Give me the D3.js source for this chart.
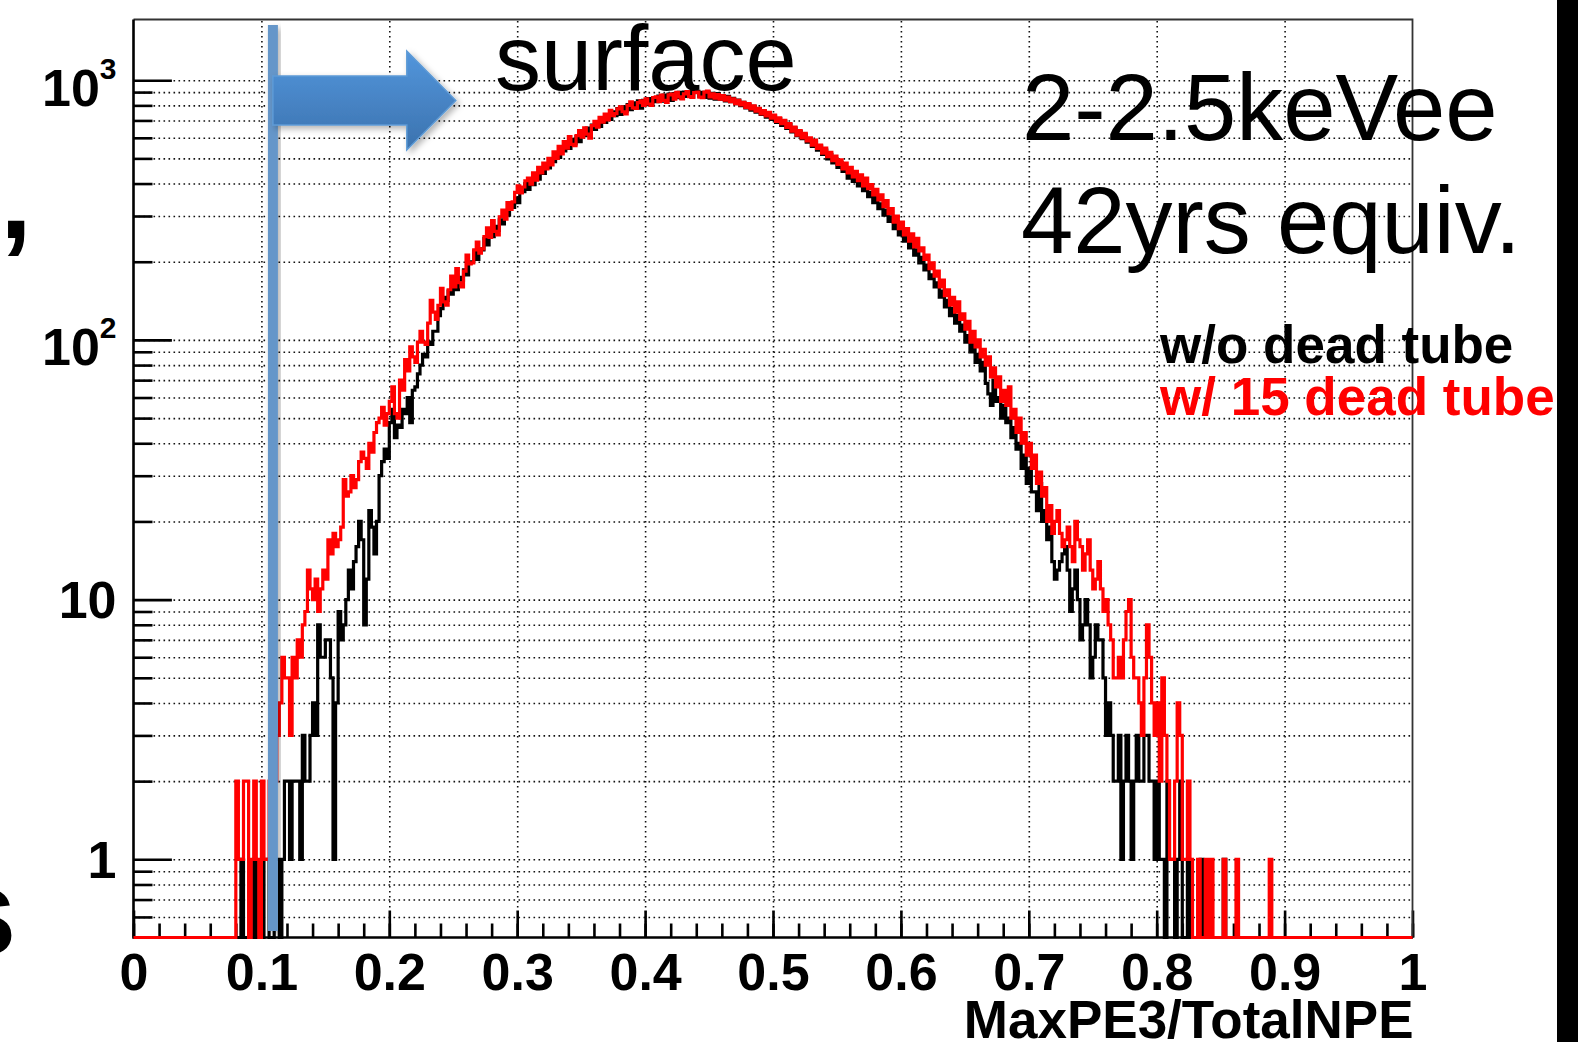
<!DOCTYPE html>
<html>
<head>
<meta charset="utf-8">
<script src="https://cdn.jsdelivr.net/npm/d3@7"></script>
<style>
  html, body { margin: 0; padding: 0; background: #fff; }
  svg { display: block; }
  text { font-family: "Liberation Sans", Arial, Helvetica, sans-serif; }
</style>
</head>
<body>
<svg id="plot"></svg>
<script>
// histogram bins: 0.002 wide, starting at 0.08 (everything outside is empty)
const binStart = 0.08;
const binWidth = 0.002;

// one row = 0.04 in MaxPE3/TotalNPE
const blackCounts = [
  0, 0, 1, 0, 0, 0, 0, 1, 0, 0, 0, 1, 1, 0, 0, 1, 1, 0, 1, 2,
  2, 1, 2, 2, 2, 1, 3, 2, 2, 3, 4, 3, 8, 6, 6, 7, 7, 5, 1, 4,
  9, 7, 8, 10, 13, 11, 14, 16, 20, 17, 8, 12, 22, 19, 15, 20, 30, 34, 38, 35,
  48, 54, 42, 47, 46, 54, 52, 60, 48, 64, 66, 74, 80, 88, 86, 98, 96, 108, 108, 124,
  132, 146, 142, 154, 150, 168, 156, 174, 170, 186, 178, 198, 200, 220, 204, 224, 222, 246, 232, 256,
  250, 274, 264, 290, 280, 308, 302, 330, 324, 352, 338, 370, 372, 400, 380, 412, 396, 430, 416, 452,
  438, 474, 460, 496, 486, 522, 504, 544, 534, 572, 546, 592, 568, 606, 580, 628, 612, 654, 624, 672,
  646, 690, 664, 714, 688, 736, 706, 756, 730, 778, 738, 790, 760, 806, 770, 818, 786, 832, 780, 836,
  806, 850, 810, 858, 826, 868, 830, 876, 842, 884, 836, 888, 856, 898, 852, 900, 866, 904, 860, 906,
  906, 868, 898, 858, 900, 852, 890, 846, 888, 846, 872, 832, 866, 826, 852, 812, 838, 798, 822, 782,
  808, 766, 794, 754, 778, 738, 760, 720, 748, 706, 728, 688, 712, 670, 694, 652, 676, 632, 656, 612,
  636, 596, 618, 578, 596, 556, 578, 538, 558, 518, 538, 498, 518, 480, 498, 462, 482, 446, 456, 420,
  442, 408, 426, 392, 410, 376, 392, 356, 370, 338, 354, 320, 334, 302, 316, 286, 298, 268, 282, 254,
  266, 240, 252, 226, 236, 212, 222, 198, 208, 186, 194, 172, 178, 160, 166, 146, 154, 134, 142, 124,
  132, 116, 124, 108, 114, 98, 104, 90, 96, 82, 88, 76, 82, 68, 62, 56, 70, 58, 60, 50,
  56, 48, 50, 42, 46, 38, 40, 32, 36, 28, 32, 26, 26, 22, 28, 20, 22, 17, 19, 14,
  12, 13, 14, 15, 16, 13, 9, 11, 13, 10, 7, 8, 10, 8, 5, 6, 8, 7, 7, 5,
  3, 4, 3, 2, 2, 3, 1, 2, 3, 2, 1, 2, 3, 2, 2, 3, 3, 2, 2, 1,
  2, 1, 1, 0, 2, 1, 1, 0, 1, 2, 0, 0, 1, 0, 0, 0, 0, 1, 0, 0,
  0, 0, 0, 0, 0, 0, 1, 0, 0, 0, 0, 0, 0, 0, 0, 0, 0, 0, 0, 0,
  0, 0, 0, 0, 0, 0, 0, 0, 0, 0
];

const redCounts = [
  2, 1, 1, 2, 2, 0, 1, 2, 1, 0, 2, 1, 1, 2, 1, 2, 3, 4, 6, 5,
  5, 3, 6, 5, 7, 6, 8, 9, 13, 11, 10, 12, 9, 11, 13, 12, 17, 15, 18, 16,
  17, 19, 29, 25, 26, 30, 27, 29, 34, 37, 35, 32, 40, 37, 44, 48, 50, 55, 47, 52,
  58, 66, 52, 50, 70, 64, 84, 76, 94, 86, 82, 98, 108, 98, 96, 116, 142, 128, 120, 136,
  158, 140, 136, 156, 176, 160, 188, 166, 160, 184, 212, 196, 198, 222, 238, 216, 224, 250, 270, 248,
  288, 262, 254, 298, 316, 292, 338, 318, 340, 370, 392, 368, 388, 410, 420, 398, 440, 412, 462, 440,
  480, 456, 500, 472, 530, 500, 556, 520, 580, 548, 606, 566, 560, 612, 640, 604, 656, 620, 598, 668,
  694, 660, 720, 690, 740, 704, 766, 730, 744, 776, 790, 756, 742, 800, 826, 782, 778, 820, 832, 800,
  848, 810, 800, 858, 862, 826, 876, 836, 822, 878, 884, 846, 898, 862, 848, 886, 904, 864, 858, 896,
  900, 860, 856, 900, 908, 862, 886, 852, 880, 846, 872, 838, 860, 826, 848, 812, 836, 804, 822, 786,
  812, 776, 796, 760, 780, 742, 764, 728, 752, 714, 734, 694, 716, 680, 700, 658, 680, 636, 660, 614,
  640, 600, 624, 584, 600, 562, 588, 546, 562, 524, 548, 508, 528, 490, 510, 474, 494, 456, 480, 440,
  462, 424, 446, 410, 432, 392, 420, 382, 396, 362, 380, 346, 362, 326, 344, 306, 320, 284, 300, 268,
  284, 254, 268, 240, 256, 228, 246, 220, 226, 204, 212, 188, 198, 176, 184, 160, 170, 148, 156, 136,
  146, 128, 140, 120, 126, 110, 118, 98, 108, 94, 100, 86, 92, 80, 86, 72, 78, 66, 72, 58,
  64, 56, 66, 50, 54, 44, 50, 40, 44, 36, 40, 32, 36, 28, 31, 25, 27, 20, 23, 18,
  20, 22, 18, 16, 17, 19, 16, 14, 20, 17, 16, 13, 15, 17, 13, 11, 12, 14, 11, 9,
  10, 8, 7, 5, 5, 6, 5, 7, 9, 10, 6, 5, 5, 4, 3, 5, 8, 6, 4, 3,
  4, 2, 5, 3, 2, 1, 1, 2, 4, 3, 1, 1, 2, 1, 0, 0, 1, 0, 0, 1,
  0, 1, 0, 0, 0, 0, 1, 0, 0, 0, 0, 1, 0, 0, 0, 0, 0, 0, 0, 0,
  0, 0, 0, 0, 1, 0, 0, 0, 0, 0
];

const xTicksMajor = [0, 0.1, 0.2, 0.3, 0.4, 0.5, 0.6, 0.7, 0.8, 0.9, 1];
const xTickLabels = ["0", "0.1", "0.2", "0.3", "0.4", "0.5", "0.6", "0.7", "0.8", "0.9", "1"];
const yTicksMajor = [1, 10, 100, 1000];
const yTickLabels = [["1", ""], ["10", ""], ["10", "2"], ["10", "3"]];
const xTitle = "MaxPE3/TotalNPE";
const legendLabels = ["w/o dead tube", "w/ 15 dead tube"];
const noteLines = ["2-2.5keVee", "42yrs equiv."];
const surfaceLabel = "surface";
const surfaceCut = 0.109;   // blue cut line
const arrowEnd = 0.252;     // arrow tip

const W = 1578, H = 1042;
const plotLeft = 133.5, plotRight = 1412.5, plotTop = 19.5, plotBottom = 937.5;

const svg = d3.select("#plot").attr("width", W).attr("height", H);

const x = d3.scaleLinear().domain([0, 1]).range([plotLeft, plotRight]);
const y = d3.scaleLog().domain([0.5, 1713]).range([plotBottom, plotTop]);

svg.append("rect").attr("width", W).attr("height", H).attr("fill", "#fff");

//-------------- grid --------------
const logTicks = y.ticks().filter(d => d > 0.5);
const gridY = svg.append("g")
  .attr("transform", "translate(" + plotLeft + ",0)")
  .call(d3.axisLeft(y).tickValues(logTicks).tickSize(-(plotRight - plotLeft)).tickFormat(""));
const gridX = svg.append("g")
  .attr("transform", "translate(0," + plotBottom + ")")
  .call(d3.axisBottom(x).tickValues(xTicksMajor.slice(1, -1)).tickSize(-(plotBottom - plotTop)).tickFormat(""));
[gridY, gridX].forEach(g => {
  g.select(".domain").remove();
  g.selectAll("line")
    .attr("stroke", "#111")
    .attr("stroke-width", 1.6)
    .attr("stroke-dasharray", "1.6,3.4");
});

//-------------- axes --------------
const tickW = 2.6;
const yMinor = svg.append("g")
  .attr("transform", "translate(" + plotLeft + ",0)")
  .call(d3.axisLeft(y).tickValues(logTicks.filter(d => !yTicksMajor.includes(d))).tickSize(-19).tickFormat(""));
yMinor.select(".domain").remove();

const yMajor = svg.append("g")
  .attr("transform", "translate(" + plotLeft + ",0)")
  .call(d3.axisLeft(y).tickValues(yTicksMajor).tickSize(-38.4).tickFormat(""));
yMajor.select(".domain").remove();
yMajor.selectAll(".tick text").each(function(d, i) {
  const t = d3.select(this);
  const [base, sup] = yTickLabels[i];
  t.text(null)
    .attr("x", -17)
    .attr("y", sup ? 25 : 18)
    .attr("dy", 0)
    .attr("text-anchor", "end")
    .attr("font-size", 52)
    .attr("font-weight", "bold")
    .attr("fill", "#000");
  t.append("tspan").text(base);
  if (sup) t.append("tspan").attr("dy", -27).attr("font-size", 30).text(sup);
});

const xMinor = svg.append("g")
  .attr("transform", "translate(0," + plotBottom + ")")
  .call(d3.axisBottom(x).tickValues(x.ticks(50)).tickSize(-14).tickFormat(""));
xMinor.select(".domain").remove();

const xMajor = svg.append("g")
  .attr("transform", "translate(0," + plotBottom + ")")
  .call(d3.axisBottom(x).tickValues(xTicksMajor).tickSize(-27).tickFormat((d, i) => xTickLabels[i]));
xMajor.select(".domain").remove();
xMajor.selectAll(".tick text")
  .attr("y", 52.5)
  .attr("dy", 0)
  .attr("font-size", 52)
  .attr("font-weight", "bold")
  .attr("fill", "#000");

[yMinor, yMajor, xMinor, xMajor].forEach(g => {
  g.selectAll(".tick line").attr("stroke", "#000").attr("stroke-width", tickW);
});

// frame
svg.append("path")
  .attr("d", `M${plotLeft},${plotTop}H${plotRight}V${plotBottom}`)
  .attr("fill", "none").attr("stroke", "#333").attr("stroke-width", 1.8);
svg.append("path")
  .attr("d", `M${plotLeft},${plotTop}V${plotBottom}H${plotRight}`)
  .attr("fill", "none").attr("stroke", "#000").attr("stroke-width", 2.6);

//-------------- histograms --------------
function histPoints(counts) {
  const pts = [{ e: 0, v: 0 }];
  counts.forEach((c, i) => pts.push({ e: binStart + i * binWidth, v: c }));
  pts.push({ e: binStart + counts.length * binWidth, v: 0 });
  pts.push({ e: 1, v: 0 });
  return pts;
}
const histLine = d3.line()
  .x(d => x(d.e))
  .y(d => y(Math.max(d.v, 0.5)))
  .curve(d3.curveStepAfter);

svg.append("path")
  .datum(histPoints(blackCounts))
  .attr("d", histLine)
  .attr("fill", "none").attr("stroke", "#000").attr("stroke-width", 3.2);
svg.append("path")
  .datum(histPoints(redCounts))
  .attr("d", histLine)
  .attr("fill", "none").attr("stroke", "#ff0000").attr("stroke-width", 3.2);

//-------------- slide annotations --------------
const defs = svg.append("defs");
const shadow = defs.append("filter").attr("id", "shadow")
  .attr("x", "-30%").attr("y", "-30%").attr("width", "160%").attr("height", "160%");
shadow.append("feDropShadow")
  .attr("dx", 3).attr("dy", 3).attr("stdDeviation", 3)
  .attr("flood-color", "#000").attr("flood-opacity", 0.3);
const grad = defs.append("linearGradient").attr("id", "arrowGrad")
  .attr("x1", 0).attr("y1", 0).attr("x2", 0).attr("y2", 1);
grad.append("stop").attr("offset", "0%").attr("stop-color", "#5396dc");
grad.append("stop").attr("offset", "100%").attr("stop-color", "#3b72ae");

const cut = x(surfaceCut);
svg.append("rect")
  .attr("x", cut - 5).attr("y", 25)
  .attr("width", 10).attr("height", 906)
  .attr("fill", "#6596c9")
  .attr("filter", "url(#shadow)");

const tip = x(arrowEnd);
const headBase = tip - 49;
const arrowPts = [
  [cut, 76], [headBase, 76], [headBase, 51], [tip, 100.5],
  [headBase, 150], [headBase, 125], [cut, 125]
];
svg.append("polygon")
  .attr("points", arrowPts.map(p => p.join(",")).join(" "))
  .attr("fill", "url(#arrowGrad)")
  .attr("stroke", "#5e9bd6").attr("stroke-width", 1.5)
  .attr("filter", "url(#shadow)");

svg.append("text")
  .attr("x", 495).attr("y", 90)
  .attr("font-size", 92).attr("fill", "#000")
  .text(surfaceLabel);

svg.selectAll("text.note")
  .data(noteLines)
  .enter()
  .append("text")
    .attr("class", "note")
    .attr("x", (d, i) => i === 0 ? 1022 : 1021)
    .attr("y", (d, i) => 140 + i * 113)
    .attr("font-size", 94)
    .attr("fill", "#000")
    .text(d => d);

svg.selectAll("text.legend")
  .data(legendLabels)
  .enter()
  .append("text")
    .attr("class", "legend")
    .attr("x", 1160)
    .attr("y", (d, i) => 363 + i * 52)
    .attr("font-size", 53)
    .attr("font-weight", "bold")
    .attr("fill", (d, i) => i === 0 ? "#000" : "#ff0000")
    .text(d => d);

svg.append("text")
  .attr("x", plotRight + 1).attr("y", 1038)
  .attr("text-anchor", "end")
  .attr("font-size", 53).attr("font-weight", "bold")
  .attr("fill", "#000")
  .text(xTitle);

// pieces of slide text cut off at the left edge
svg.append("text")
  .attr("x", 0).attr("y", 238)
  .attr("font-size", 115).attr("font-weight", "bold")
  .text(",");
svg.append("text")
  .attr("x", -53).attr("y", 955)
  .attr("font-size", 125).attr("font-weight", "bold")
  .text("s");

// slide edge
svg.append("rect")
  .attr("x", 1557).attr("y", 0)
  .attr("width", W - 1557).attr("height", H)
  .attr("fill", "#000");
</script>
</body>
</html>
